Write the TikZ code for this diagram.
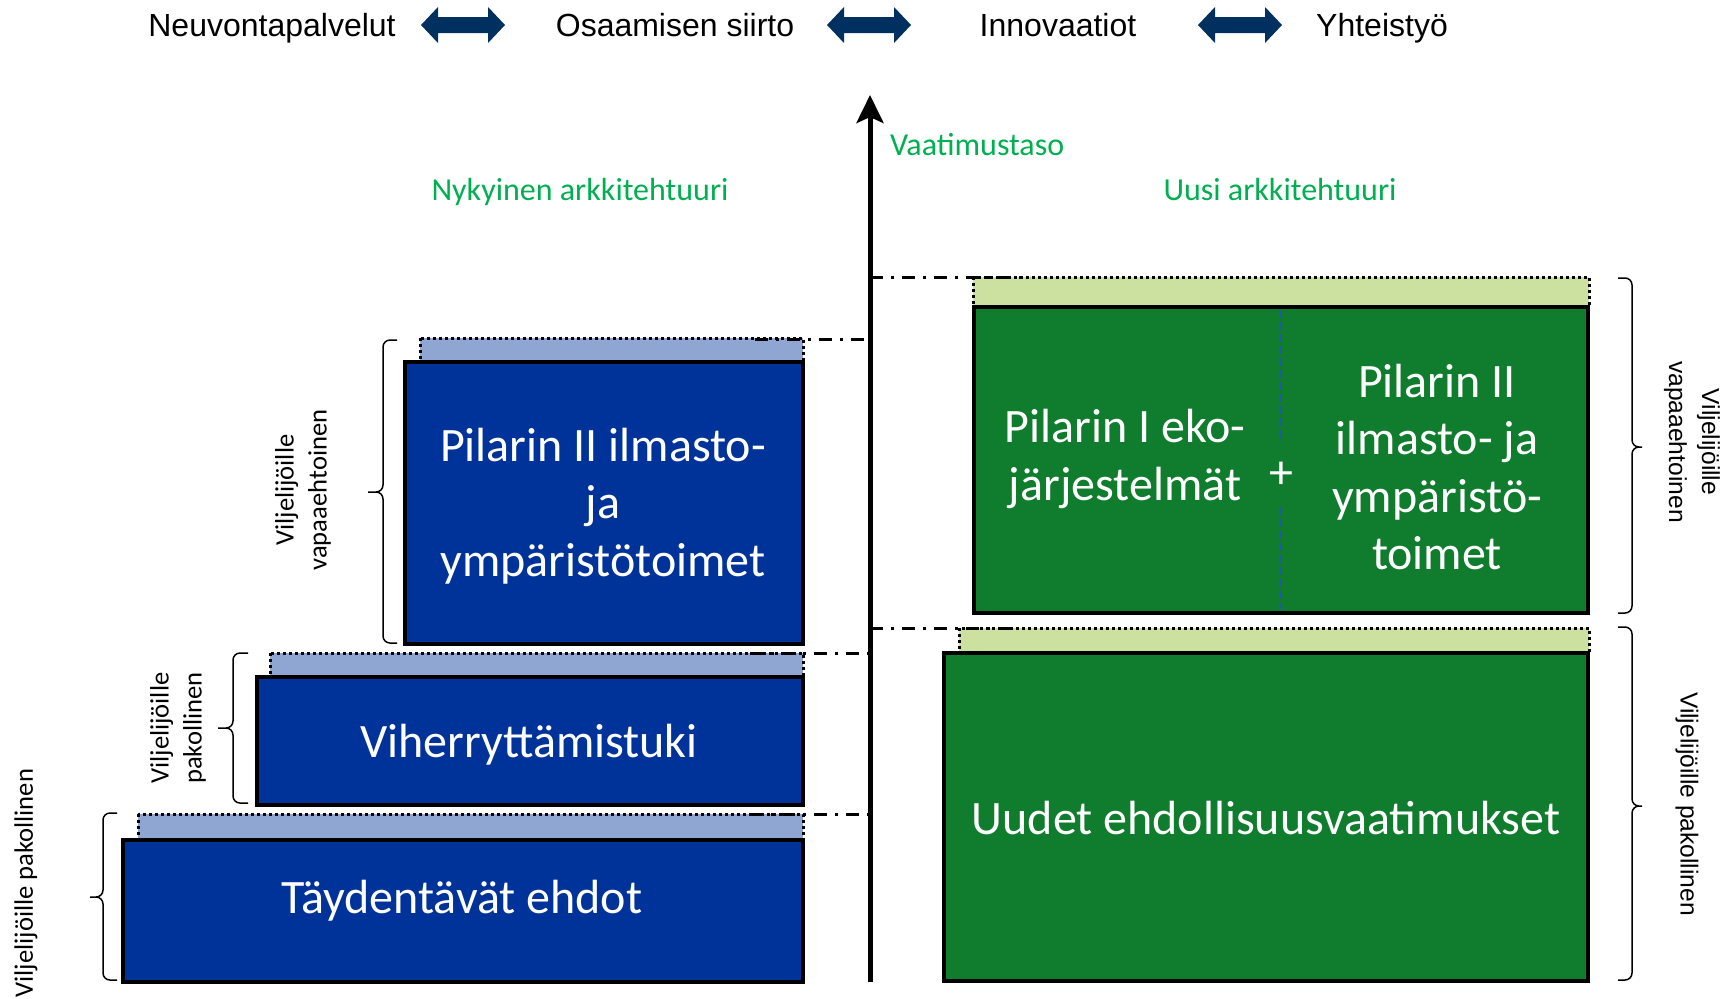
\documentclass[tikz,border=0pt]{standalone}
\usepackage{fontspec}
\setmainfont{Carlito}
\newfontfamily\arialfont{Liberation Sans}
\usetikzlibrary{arrows.meta}

\definecolor{boxblue}{RGB}{0,51,153}
\definecolor{stripblue}{RGB}{143,165,210}
\definecolor{boxgreen}{RGB}{16,124,45}
\definecolor{stripgreen}{RGB}{204,224,160}
\definecolor{arrownavy}{RGB}{0,48,96}
\definecolor{titlegreen}{RGB}{0,176,80}
\definecolor{dividerblue}{RGB}{30,90,170}

\tikzset{
	bluebox/.style={draw=black, line width=2pt, fill=boxblue},
	greenbox/.style={draw=black, line width=2pt, fill=boxgreen},
	bluestrip/.style={draw=black, line width=1.5pt, dash pattern=on 1.5pt off 1.5pt, fill=stripblue},
	greenstrip/.style={draw=black, line width=1.5pt, dash pattern=on 1.5pt off 1.5pt, fill=stripgreen},
	levelline/.style={line width=1.5pt, dash pattern=on 6.5pt off 4pt on 1.5pt off 4pt},
	axisline/.style={line width=2.5pt, -{Stealth[length=14pt, width=13.5pt, inset=3pt]}},
	divider/.style={draw=dividerblue, line width=0.8pt, dash pattern=on 4pt off 2pt},
	boxtext/.style={text=white, align=center, font=\fontsize{24}{28.7}\selectfont},
	toplabel/.style={anchor=base, font=\arialfont\fontsize{16}{19}\selectfont},
	titletext/.style={anchor=base, text=titlegreen, font=\fontsize{16}{19}\selectfont},
	bracepath/.style={line width=0.75pt, rounded corners=3.5pt},
	leftlabel/.style={rotate=90, align=center, font=\fontsize{13.3}{16.5}\selectfont},
	rightlabel/.style={rotate=-90, align=center, font=\arialfont\fontsize{12.3}{16.5}\selectfont},
	dblarrow/.pic={\fill[arrownavy] (-42,0) -- (-25,-18) -- (-25,-8) -- (25,-8) -- (25,-18) -- (42,0) -- (25,18) -- (25,8) -- (-25,8) -- (-25,18) -- cycle;}
}

\begin{document}
\begin{tikzpicture}[x=0.5pt, y=-0.5pt]
		%%%%% START %%%%%
		\useasboundingbox (0,0) rectangle (1728,998);
		
		% top row
		\node[toplabel] (neuvonta) at (272,36) {Neuvontapalvelut};
		\node[toplabel] (osaaminen) at (675,36) {Osaamisen siirto};
		\node[toplabel] (innovaatiot) at (1058,36) {Innovaatiot};
		\node[toplabel] (yhteistyo) at (1382,36) {Yhteistyö};
		\pic (arrowA) at (463,25) {dblarrow};
		\pic (arrowB) at (869,25) {dblarrow};
		\pic (arrowC) at (1240,25) {dblarrow};
		
		% titles
		\node[titletext, anchor=base west] (vaatimus) at (883,155) {Vaatimustaso};
		\node[titletext] (nykyinen) at (580,200) {Nykyinen arkkitehtuuri};
		\node[titletext] (uusi) at (1280,200) {Uusi arkkitehtuuri};
		
		\coordinate (axisbot) at (870,982);
		\coordinate (axistop) at (870,95);
		
		% current architecture
		\draw[bluestrip] (420,338) rectangle (803,362);
		\draw[bluestrip] (270,653) rectangle (803,677);
		\draw[bluestrip] (138,814) rectangle (803,840);
		
		\draw[bluebox] (405,362) rectangle (803,644);
		\draw[bluebox] (257,677) rectangle (803,805);
		\draw[bluebox] (123,840) rectangle (803,982);
		
		\node[boxtext] (pilarold) at (603,506) {Pilarin II ilmasto-\\ja\\ympäristötoimet};
		\node[boxtext] (viherr) at (529,745) {Viherryttämistuki};
		\node[boxtext] (taydent) at (462,901) {Täydentävät ehdot};
		
		\coordinate (lvlA) at (755,339);
		\coordinate (lvlB) at (750,653);
		\coordinate (lvlC) at (750,814);
		\draw[levelline] (lvlA) -- (lvlA -| axistop);
		\draw[levelline] (lvlB) -- (lvlB -| axistop);
		\draw[levelline] (lvlC) -- (lvlC -| axistop);
		
		% new architecture
		\draw[greenstrip] (973,277) rectangle (1589,307);
		\draw[greenstrip] (959,628) rectangle (1589,652);
		
		\draw[greenbox] (974,307) rectangle (1588,613);
		\draw[greenbox] (944,653) rectangle (1588,981);
		
		\node[boxtext] (pilareco) at (1125,459) {Pilarin I eko-\\järjestelmät};
		\node[boxtext] (pilarnew) at (1437,467) {Pilarin II\\ilmasto- ja\\ympäristö-\\toimet};
		\node[boxtext, inner sep=0pt, minimum height=32pt] (plus) at (1281,475) {+};
		\node[boxtext] (uudet) at (1266,818) {Uudet ehdollisuusvaatimukset};
		
		\draw[divider] (1281,310) -- (plus.north);
		\draw[divider] (plus.south) -- (1281,610);
		
		\coordinate (lvlR1) at (1030,277);
		\coordinate (lvlR2) at (1012,628);
		\draw[levelline] (lvlR1 -| axistop) -- (lvlR1);
		\draw[levelline] (lvlR2 -| axistop) -- (lvlR2);
		
		\draw[axisline] (axisbot) -- (axistop);
		
		% braces
		\draw[bracepath] (397,340) -- (383,340) -- (383,492) -- (368,492) (397,643) -- (383,643) -- (383,492) -- (368,492);
		\draw[bracepath] (248,653) -- (233,653) -- (233,728) -- (218,728) (248,803) -- (233,803) -- (233,728) -- (218,728);
		\draw[bracepath] (117,813) -- (103,813) -- (103,897) -- (90,897) (117,980) -- (103,980) -- (103,897) -- (90,897);
		\draw[bracepath] (1618,278) -- (1632,278) -- (1632,447) -- (1642,447) (1618,613) -- (1632,613) -- (1632,447) -- (1642,447);
		\draw[bracepath] (1618,627) -- (1632,627) -- (1632,806) -- (1642,806) (1618,980) -- (1632,980) -- (1632,806) -- (1642,806);
		
		\node[leftlabel] (labA) at (303,490) {Viljelijöille\\vapaaehtoinen};
		\node[leftlabel] (labB) at (178,728) {Viljelijöille\\pakollinen};
		\node[leftlabel] (labC) at (26,883) {Viljelijöille pakollinen};
		\node[rightlabel] (labR1) at (1692,442) {Viljelijöille\\vapaaehtoinen};
		\node[rightlabel] (labR2) at (1687,804) {Viljelijöille pakollinen};
		
		%%%%% END %%%%%
\end{tikzpicture}
\end{document}
